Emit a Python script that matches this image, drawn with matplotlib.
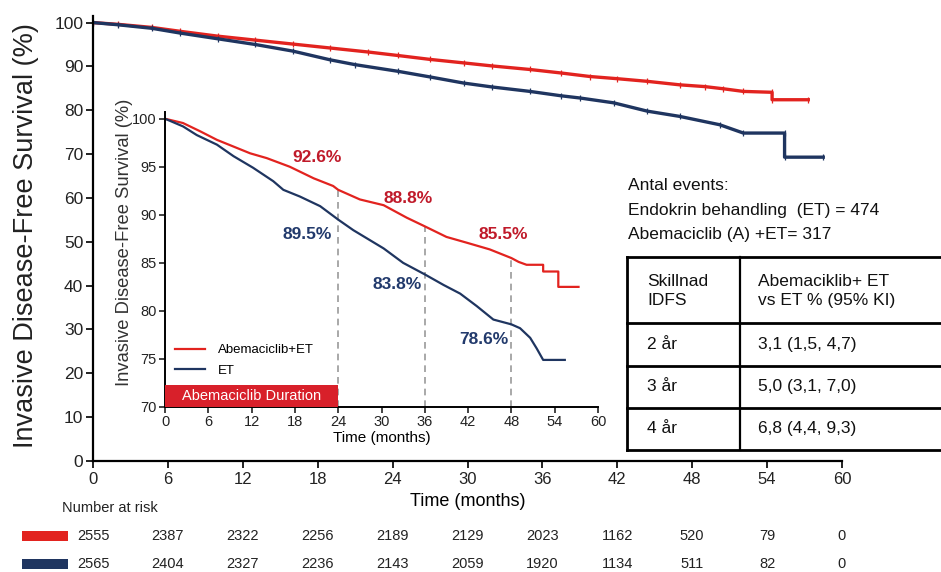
import matplotlib
matplotlib.use("Agg")
import matplotlib.pyplot as plt
from matplotlib.patches import Rectangle
from matplotlib.transforms import blended_transform_factory

# ---------------- data ----------------
# Main Kaplan-Meier curves: months, invasive disease-free survival (%)
main_months_abema = [0, 2, 4.7, 7, 10, 13, 16, 19, 22, 24.4, 27, 29.7, 32, 35,
                     37.5, 39.8, 42, 44.4, 47, 49, 50.5, 52.1, 54.4, 54.4, 57.3]
main_idfs_abema = [100, 99.6, 98.9, 98.0, 96.9, 96.0, 95.1, 94.2, 93.3, 92.5,
                   91.6, 90.8, 90.1, 89.3, 88.5, 87.7, 87.2, 86.6, 85.8, 85.4,
                   84.9, 84.3, 84.1, 82.4, 82.4]
main_months_et = [0, 2, 4.7, 7, 10, 13, 16, 19, 21, 24.4, 27, 29.7, 32, 35,
                  37.5, 39, 41.7, 44.4, 47, 50.2, 52.1, 55.4, 55.4, 58.5]
main_idfs_et = [100, 99.5, 98.7, 97.6, 96.3, 95.0, 93.5, 91.5, 90.4, 88.9,
                87.6, 86.2, 85.3, 84.3, 83.3, 82.8, 81.7, 79.8, 78.6, 76.7,
                74.8, 74.8, 69.3, 69.3]

# Inset curves (zoomed 70-100 %)
inset_months_abema = [0, 2.5, 4.85, 7.2, 9.5, 11.8, 14.1, 17.3, 20.6, 23.3, 24,
                      27, 30.3, 33.5, 36, 39, 41.8, 45, 48, 49, 50.1, 52.4,
                      52.4, 54.5, 54.5, 57.3]
inset_idfs_abema = [100, 99.55, 98.7, 97.8, 97.1, 96.4, 95.9, 95.0, 93.8, 93.0,
                    92.6, 91.6, 91.0, 89.7, 88.8, 87.7, 87.1, 86.4, 85.5, 85.1,
                    84.8, 84.8, 84.1, 84.1, 82.5, 82.5]
inset_months_et = [0, 2.5, 4.4, 7.2, 9.5, 12.2, 15, 16.4, 18.7, 21.5, 24, 26.1,
                   30.3, 33, 36, 38.6, 40.9, 43.2, 45.5, 48, 49.2, 50.6, 51.5,
                   52.4, 55.4]
inset_idfs_et = [100, 99.2, 98.3, 97.3, 96.1, 94.9, 93.5, 92.6, 91.9, 90.9,
                 89.5, 88.4, 86.5, 85.0, 83.8, 82.7, 81.8, 80.5, 79.1, 78.6,
                 78.2, 77.2, 76.1, 74.9, 74.9]

landmark_months = [24, 36, 48]
landmark_abema = [92.6, 88.8, 85.5]
landmark_et = [89.5, 83.8, 78.6]
duration_months = 24

risk_months = [0, 6, 12, 18, 24, 30, 36, 42, 48, 54, 60]
risk_abema = [2555, 2387, 2322, 2256, 2189, 2129, 2023, 1162, 520, 79, 0]
risk_et = [2565, 2404, 2327, 2236, 2143, 2059, 1920, 1134, 511, 82, 0]

events_lines = ["Antal events:",
                "Endokrin behandling  (ET) = 474",
                "Abemaciclib (A) +ET= 317"]
table_header = ["Skillnad\nIDFS", "Abemaciklib+ ET\nvs ET % (95% KI)"]
table_years = ["2 år", "3 år", "4 år"]
table_diffs = ["3,1 (1,5, 4,7)", "5,0 (3,1, 7,0)", "6,8 (4,4, 9,3)"]

# ---------------- style ----------------
RED = "#e2231f"
BLUE = "#1f3560"
RED_TXT = "#c01a2a"
BLUE_TXT = "#223a6c"
SANS = ["Liberation Sans", "DejaVu Sans"]
plt.rcParams["font.family"] = SANS

W, H = 941, 572
fig = plt.figure(figsize=(W / 100, H / 100), dpi=100)


def fx(px):
    return px / W


def fy(py):
    return 1 - py / H


# ---------------- main axes ----------------
ax = fig.add_axes([fx(93), fy(461), fx(842) - fx(93), fy(16) - fy(461)])
ax.plot(main_months_abema, main_idfs_abema, color=RED, lw=2.4,
        marker="|", ms=5, mew=0.9)
ax.plot(main_months_et, main_idfs_et, color=BLUE, lw=2.4,
        marker="|", ms=5, mew=0.9)
ax.set_xlim(0, 60)
ax.set_ylim(0, 101.5)
ax.set_xticks(risk_months)
ax.set_yticks(range(0, 101, 10))
for s in ("top", "right"):
    ax.spines[s].set_visible(False)
for s in ("left", "bottom"):
    ax.spines[s].set_linewidth(1.6)
ax.spines["left"].set_bounds(0, 101.5)
ax.tick_params(axis="both", length=5, width=1.4, colors="#222222")
ax.tick_params(axis="y", labelsize=12.5, pad=2)
ax.tick_params(axis="x", labelsize=12, pad=3)
ax.set_xlabel("Time (months)", fontsize=13, labelpad=4)
ax.patch.set_alpha(0)

fig.text(fx(26), fy(236), "Invasive Disease-Free Survival (%)", rotation=90,
         ha="center", va="center", fontsize=19.5, color="#222222")

# ---------------- inset axes ----------------
ai = fig.add_axes([fx(165), fy(407), fx(598) - fx(165), fy(112) - fy(407)])
ai.plot(inset_months_abema, inset_idfs_abema, color=RED, lw=1.6,
        label="Abemaciclib+ET")
ai.plot(inset_months_et, inset_idfs_et, color=BLUE, lw=1.6, label="ET")
ai.vlines(landmark_months, 70, landmark_abema, colors="#9a9a9a",
          linestyles=(0, (4, 3)), lw=1.2, zorder=1)
ai.set_xlim(0, 60)
ai.set_ylim(70, 100.7)
ai.set_xticks(range(0, 61, 6))
ai.set_yticks(range(70, 101, 5))
for s in ("top", "right"):
    ai.spines[s].set_visible(False)
for s in ("left", "bottom"):
    ai.spines[s].set_linewidth(1.4)
ai.spines["left"].set_bounds(70, 100.7)
ai.tick_params(axis="both", length=4, width=1.2, labelsize=10.5,
               colors="#222222", pad=2)
ai.set_xlabel("Time (months)", fontsize=11, labelpad=1)
ai.patch.set_alpha(0)
fig.text(fx(125), fy(242), "Invasive Disease-Free Survival (%)", rotation=90,
         ha="center", va="center", fontsize=13.2, color="#333333")

# abemaciclib treatment window
ai.add_patch(Rectangle((0, 70), duration_months, 2.3, facecolor="#d8202a",
                       edgecolor="none", clip_on=False, zorder=3))
ai.text(duration_months / 2, 71.15, "Abemaciclib Duration", color="white",
        ha="center", va="center", fontsize=10.5, zorder=4)

leg = ai.legend(loc="lower left", bbox_to_anchor=(0.01, 0.085), frameon=False,
                fontsize=9.5, handlelength=2.3, handletextpad=1.0,
                labelspacing=0.6, borderaxespad=0)

# landmark labels
red_offsets = [(-15, 23), (-12, 20), (-6, 17)]
blue_offsets = [(-22, -11), (-20, -7), (-20, -11)]
for m, v, off in zip(landmark_months, landmark_abema, red_offsets):
    ai.annotate(f"{v:.1f}%", (m, v), xytext=off, textcoords="offset points",
                ha="center", va="center", fontsize=12.5, fontweight="bold",
                color=RED_TXT)
for m, v, off in zip(landmark_months, landmark_et, blue_offsets):
    ai.annotate(f"{v:.1f}%", (m, v), xytext=off, textcoords="offset points",
                ha="center", va="center", fontsize=12.5, fontweight="bold",
                color=BLUE_TXT)

# ---------------- number at risk ----------------
trans = blended_transform_factory(ax.transData, fig.transFigure)
fig.text(fx(62), fy(508), "Number at risk", ha="left", va="center",
         fontsize=10.5, color="#222222")
for row_y, vals, col in ((536, risk_abema, RED), (564, risk_et, BLUE)):
    fig.add_artist(Rectangle((fx(22), fy(row_y + 5)), fx(46), fy(0) - fy(10),
                             transform=fig.transFigure, facecolor=col,
                             edgecolor="none"))
    for m, n in zip(risk_months, vals):
        fig.text(m, fy(row_y), str(n), transform=trans, ha="center",
                 va="center", fontsize=10.5, color="#222222")

# ---------------- events text ----------------
for i, line in enumerate(events_lines):
    fig.text(fx(628), fy(186 + 24.5 * i), line, ha="left", va="center",
             fontsize=12.5, color="#111111")

# ---------------- difference table ----------------
at = fig.add_axes([fx(627), fy(450), 1 - fx(627), fy(257) - fy(450)])
at.set_axis_off()
at.set_xlim(627, 941)
at.set_ylim(450, 257)
row_edges = [257, 323, 366, 408, 450]
for y in row_edges:
    at.plot([627, 945], [y, y], color="black", lw=2, clip_on=False,
            solid_capstyle="projecting")
at.plot([627, 627], [257, 450], color="black", lw=2, clip_on=False,
        solid_capstyle="projecting")
at.plot([740, 740], [257, 450], color="black", lw=1.6, clip_on=False)
at.text(647, 291, table_header[0], ha="left", va="center", fontsize=12.5,
        linespacing=1.35, color="#111111")
at.text(758, 291, table_header[1], ha="left", va="center", fontsize=12.5,
        linespacing=1.35, color="#111111")
for i, (yr, d) in enumerate(zip(table_years, table_diffs)):
    yc = (row_edges[i + 1] + row_edges[i + 2]) / 2
    at.text(647, yc, yr, ha="left", va="center", fontsize=12.5,
            color="#111111")
    at.text(758, yc, d, ha="left", va="center", fontsize=12.5,
            color="#111111")

fig.savefig("out.png", dpi=100, facecolor="white")
